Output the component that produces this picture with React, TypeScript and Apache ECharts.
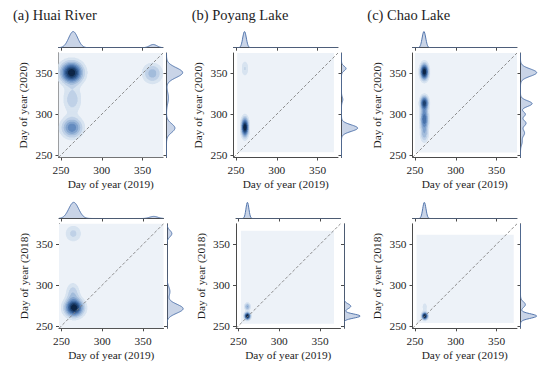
import React, { useEffect, useRef } from "react";
import * as echarts from "echarts";

// ---------------- data ----------------
const AXIS_MIN = 247;
const AXIS_MAX = 375;
const tickValues = [250, 300, 350];
const diagonal = [247, 375];

const panelTitles = ["(a) Huai River", "(b) Poyang Lake", "(c) Chao Lake"];
const xAxisTitles = [
  "Day of year (2019)", "Day of year (2019)", "Day of year (2019)",
  "Day of year (2019)", "Day of year (2019)", "Day of year (2019)",
];
const yAxisTitles = [
  "Day of year (2020)", "Day of year (2020)", "Day of year (2020)",
  "Day of year (2018)", "Day of year (2018)", "Day of year (2018)",
];

// joint density peaks: [x, y, sigmaX, sigmaY, mass]
const jointHuai2020 = [
  [263, 351, 9, 8.5, 1.0],
  [263.5, 283.5, 8.5, 8, 0.52],
  [264, 318, 7.5, 11, 0.3],
  [362, 350, 8, 8, 0.3],
];
const jointPoyang2020 = [
  [261, 284, 2.9, 7.6, 1.0],
  [261, 356, 3, 6.8, 0.19],
];
const jointChao2020 = [
  [261.5, 352, 3.3, 6.5, 1.0],
  [261.5, 314, 3.3, 5.5, 0.68],
  [261.5, 294, 3.3, 9, 0.95],
  [261.5, 275, 3.3, 6.5, 0.3],
];
const jointHuai2018 = [
  [265.5, 272, 7.5, 7, 1.0],
  [264, 290, 5.5, 8.5, 0.25],
  [264.5, 363, 7, 7, 0.22],
];
const jointPoyang2018 = [
  [261, 262, 2.4, 2.8, 1.0],
  [261, 273.5, 2.4, 3, 0.43],
];
const jointChao2018 = [
  [262, 262, 2.4, 2.8, 1.0],
  [262, 273, 2.2, 4, 0.22],
];

// extent of the lightest density band: [x0, x1, y0, y1]
const fillHuai2020 = [247, 375, 247, 376];
const fillPoyang2020 = [251.5, 370, 253.5, 376];
const fillChao2020 = [250, 375, 253, 376];
const fillHuai2018 = [247, 375, 247, 376];
const fillPoyang2018 = [253, 367, 252.5, 366.5];
const fillChao2018 = [252, 371, 253.5, 361.5];

// marginal density peaks: [position, sigma, relative height]
const topHuai2020 = [[265, 5.5, 1.0], [363, 4.5, 0.2]];
const rightHuai2020 = [[351, 6, 1.0], [320, 7, 0.12], [283, 5.5, 0.52]];
const topPoyang2020 = [[260.5, 2.2, 1.0]];
const rightPoyang2020 = [[283, 4, 1.0], [356, 2.8, 0.28], [318, 3, 0.08]];
const topChao2020 = [[261, 2.2, 1.0]];
const rightChao2020 = [[351, 4.5, 1.0], [313, 3.5, 0.72], [300, 3, 0.3], [289, 3.5, 0.34], [277, 4, 0.25], [266, 4, 0.1]];
const topHuai2018 = [[265, 6, 1.0], [363, 5, 0.13]];
const rightHuai2018 = [[271, 5.5, 1.0], [292, 6, 0.18], [363, 4, 0.3]];
const topPoyang2018 = [[261, 1.8, 1.0]];
const rightPoyang2018 = [[262, 2.5, 1.0], [274, 3, 0.42]];
const topChao2018 = [[261.5, 2, 1.0]];
const rightChao2018 = [[262, 2.8, 1.0], [276, 3.5, 0.3]];

const panels = [
  { joint: jointHuai2020, fill: fillHuai2020, top: topHuai2020, right: rightHuai2020 },
  { joint: jointPoyang2020, fill: fillPoyang2020, top: topPoyang2020, right: rightPoyang2020 },
  { joint: jointChao2020, fill: fillChao2020, top: topChao2020, right: rightChao2020 },
  { joint: jointHuai2018, fill: fillHuai2018, top: topHuai2018, right: rightHuai2018 },
  { joint: jointPoyang2018, fill: fillPoyang2018, top: topPoyang2018, right: rightPoyang2018 },
  { joint: jointChao2018, fill: fillChao2018, top: topChao2018, right: rightChao2018 },
];

// ---------------- layout / style ----------------
const SIZE = 104.5;
const MARG = 21;
const TOP_GAP = 5.3;
const RIGHT_GAP = 3.5;
const panelPos = [
  [58.5, 53], [233.5, 53], [412.5, 53],
  [59, 223.8], [236, 223.8], [412.5, 223.8],
];
const titlePos = [[13, 7], [191.7, 7], [367.3, 7]];
const FONT = "'Liberation Serif', 'Times New Roman', serif";
const TEXT = "#1e1e1e";
const SPINE = "#4a4a4a";
const LEVEL_COLORS = [
  "#edf2f8", "#d7e3f0", "#bfd1e7", "#a2bcdb", "#83a4ce",
  "#648bbf", "#4872a9", "#30598e", "#1e416f", "#0e2647",
];
const MARG_LINE = "#5577ad";
const MARG_FILL = "rgba(76,114,176,0.3)";
const STEP = 0.5;

function jointDensity(comps: number[][], x: number, y: number) {
  let s = 0;
  for (const [cx, cy, sx, sy, m] of comps) {
    const dx = (x - cx) / sx;
    const dy = (y - cy) / sy;
    s += (m / (sx * sy)) * Math.exp(-0.5 * (dx * dx + dy * dy));
  }
  return s;
}

function buildBands(comps: number[][], ext: number[]) {
  const [x0, x1, y0, y1] = ext;
  const nx = Math.round((x1 - x0) / STEP);
  const ny = Math.round((y1 - y0) / STEP);
  const vals: number[][] = [];
  let max = 0;
  for (let j = 0; j < ny; j++) {
    const yc = y0 + (j + 0.5) * STEP;
    const row: number[] = [];
    for (let i = 0; i < nx; i++) {
      const xc = x0 + (i + 0.5) * STEP;
      const d = jointDensity(comps, xc, yc);
      row.push(d);
      if (d > max) max = d;
    }
    vals.push(row);
  }
  const lv = vals.map((row) => row.map((d) => Math.min(9, Math.floor((10 * d) / max))));
  const items: number[][] = [];
  for (let k = 1; k <= 9; k++) {
    for (let j = 0; j < ny; j++) {
      const yc = y0 + (j + 0.5) * STEP;
      let start = -1;
      for (let i = 0; i <= nx; i++) {
        const on = i < nx && lv[j][i] >= k;
        if (on && start < 0) start = i;
        if (!on && start >= 0) {
          items.push([x0 + start * STEP, x0 + i * STEP, yc, k]);
          start = -1;
        }
      }
    }
  }
  return items;
}

function marginalCurve(peaks: number[][]) {
  const pts: number[][] = [];
  let max = 0;
  for (let p = AXIS_MIN; p <= AXIS_MAX + 1e-9; p += 0.5) {
    let d = 0;
    for (const [c, s, h] of peaks) {
      const z = (p - c) / s;
      d += h * Math.exp(-0.5 * z * z);
    }
    pts.push([p, d]);
    if (d > max) max = d;
  }
  return pts.map(([p, d]) => [p, d / max]);
}

function buildOption() {
  const grid: any[] = [];
  const xAxis: any[] = [];
  const yAxis: any[] = [];
  const series: any[] = [];

  const spineAxis = {
    axisLine: { show: true, onZero: false, lineStyle: { color: SPINE, width: 1 } },
    axisTick: { show: true, inside: false, length: 3, customValues: tickValues, lineStyle: { color: SPINE, width: 1 } },
    splitLine: { show: false },
  };
  const xLabelStyle = { show: true, customValues: tickValues, margin: 7, fontSize: 11.3, fontFamily: FONT, color: TEXT };
  const yLabelStyle = { show: true, customValues: tickValues, margin: 6, fontSize: 11.3, fontFamily: FONT, color: TEXT };
  const nameStyle = { fontSize: 11.3, fontFamily: FONT, color: TEXT };

  panels.forEach((pnl, i) => {
    const [left, top] = panelPos[i];
    const g = i * 3;
    grid.push({ left, top, width: SIZE, height: SIZE });
    grid.push({ left, top: top - TOP_GAP - MARG, width: SIZE, height: MARG });
    grid.push({ left: left + SIZE + RIGHT_GAP, top, width: MARG, height: SIZE });

    // main
    xAxis.push({
      ...spineAxis, type: "value", gridIndex: g, min: AXIS_MIN, max: AXIS_MAX,
      axisLabel: xLabelStyle,
      name: xAxisTitles[i], nameLocation: "middle", nameGap: 21, nameTextStyle: nameStyle,
    });
    yAxis.push({
      ...spineAxis, type: "value", gridIndex: g, min: AXIS_MIN, max: AXIS_MAX,
      axisLabel: yLabelStyle,
      name: yAxisTitles[i], nameLocation: "middle", nameGap: 30, nameTextStyle: nameStyle,
    });
    // top marginal
    xAxis.push({
      ...spineAxis, type: "value", gridIndex: g + 1, min: AXIS_MIN, max: AXIS_MAX,
      axisLabel: { show: false },
    });
    yAxis.push({ type: "value", gridIndex: g + 1, min: 0, max: 1.3, show: false });
    // right marginal
    xAxis.push({ type: "value", gridIndex: g + 2, min: 0, max: 1.3, show: false });
    yAxis.push({
      ...spineAxis, type: "value", gridIndex: g + 2, min: AXIS_MIN, max: AXIS_MAX,
      axisLabel: { show: false },
    });

    const xa = g, ya = g;
    // lightest band
    series.push({
      type: "custom", xAxisIndex: xa, yAxisIndex: ya, clip: true, silent: true,
      encode: { x: [0, 1], y: [2, 3] },
      data: [pnl.fill],
      renderItem: (_p: any, api: any) => {
        const a = api.coord([api.value(0), api.value(3)]);
        const b = api.coord([api.value(1), api.value(2)]);
        return { type: "rect", shape: { x: a[0], y: a[1], width: b[0] - a[0], height: b[1] - a[1] }, style: { fill: LEVEL_COLORS[0] } };
      },
    });
    // density bands
    series.push({
      type: "custom", xAxisIndex: xa, yAxisIndex: ya, clip: true, silent: true,
      encode: { x: [0, 1], y: 2 },
      data: buildBands(pnl.joint, pnl.fill),
      renderItem: (_p: any, api: any) => {
        const yc = api.value(2);
        const a = api.coord([api.value(0), yc + STEP / 2]);
        const b = api.coord([api.value(1), yc - STEP / 2]);
        return {
          type: "rect",
          shape: { x: a[0], y: a[1] - 0.3, width: b[0] - a[0], height: b[1] - a[1] + 0.6 },
          style: { fill: LEVEL_COLORS[api.value(3)] },
        };
      },
    });
    // diagonal
    series.push({
      type: "line", xAxisIndex: xa, yAxisIndex: ya, silent: true, symbol: "none",
      data: [[diagonal[0], diagonal[0]], [diagonal[1], diagonal[1]]],
      lineStyle: { color: "#808080", width: 0.9, type: [3, 2] },
    });
    // top marginal
    const topPts = marginalCurve(pnl.top);
    series.push({
      type: "custom", xAxisIndex: g + 1, yAxisIndex: g + 1, clip: true, silent: true,
      encode: { x: 0, y: 1 },
      data: topPts,
      renderItem: (params: any, api: any) => {
        if (params.dataIndex !== 0) return null;
        const pts = topPts.map((q) => api.coord(q));
        const b0 = api.coord([topPts[0][0], 0]);
        const b1 = api.coord([topPts[topPts.length - 1][0], 0]);
        return {
          type: "group",
          children: [
            { type: "polygon", shape: { points: [b0, ...pts, b1] }, style: { fill: MARG_FILL } },
            { type: "polyline", shape: { points: pts }, style: { stroke: MARG_LINE, lineWidth: 1, fill: null } },
          ],
        };
      },
    });
    // right marginal
    const rightPts = marginalCurve(pnl.right).map(([p, d]) => [d, p]);
    series.push({
      type: "custom", xAxisIndex: g + 2, yAxisIndex: g + 2, clip: true, silent: true,
      encode: { x: 0, y: 1 },
      data: rightPts,
      renderItem: (params: any, api: any) => {
        if (params.dataIndex !== 0) return null;
        const pts = rightPts.map((q) => api.coord(q));
        const b0 = api.coord([0, rightPts[0][1]]);
        const b1 = api.coord([0, rightPts[rightPts.length - 1][1]]);
        return {
          type: "group",
          children: [
            { type: "polygon", shape: { points: [b0, ...pts, b1] }, style: { fill: MARG_FILL } },
            { type: "polyline", shape: { points: pts }, style: { stroke: MARG_LINE, lineWidth: 1, fill: null } },
          ],
        };
      },
    });
  });

  const title = panelTitles.map((t, i) => ({
    text: t, left: titlePos[i][0], top: titlePos[i][1], padding: 0,
    textStyle: { fontFamily: FONT, fontSize: 14.5, fontWeight: "normal", color: TEXT },
  }));

  return { animation: false, backgroundColor: "#ffffff", title, grid, xAxis, yAxis, series };
}

export default function App() {
  const ref = useRef<HTMLDivElement>(null);
  useEffect(() => {
    if (!ref.current) return;
    const chart = echarts.init(ref.current, undefined, { renderer: "svg" });
    chart.setOption(buildOption() as any);
    return () => chart.dispose();
  }, []);
  return <div ref={ref} style={{ position: "fixed", left: 0, top: 0, width: 550, height: 370, background: "#fff" }} />;
}
